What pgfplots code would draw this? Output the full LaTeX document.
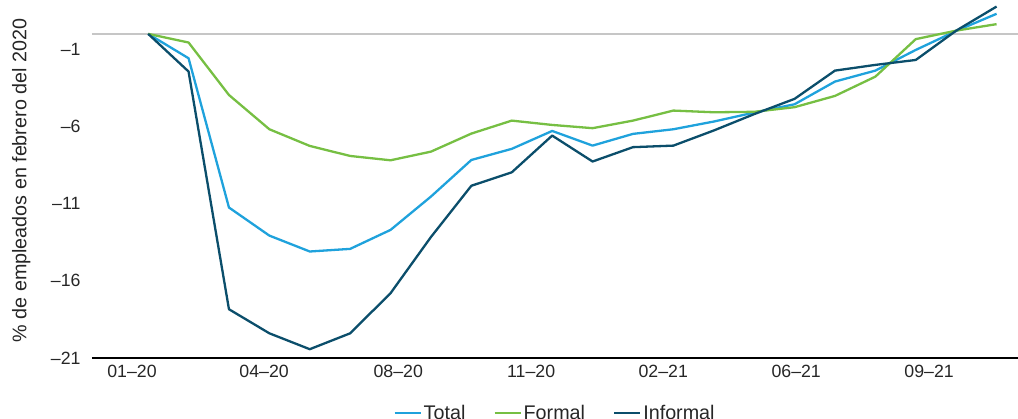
\documentclass[border=0pt]{standalone}
\usepackage{fontspec}
\setmainfont{Liberation Sans}
\usepackage{pgfplots}
\pgfplotsset{compat=1.18}

\definecolor{cTotal}{HTML}{1FA2DC}
\definecolor{cFormal}{HTML}{76BF43}
\definecolor{cInformal}{HTML}{0B4E6B}
\definecolor{zeroline}{HTML}{C6C6C6}
\definecolor{baseline}{HTML}{A0A0A0}
\definecolor{txt}{HTML}{262626}

% index: 0 = 01-20, monthly points
\pgfplotstableread{
i  total  formal  informal
0   0.00   0.00    0.00
1  -1.58  -0.56   -2.44
2  -11.25 -3.96  -17.84
3  -13.07 -6.18  -19.40
4  -14.10 -7.26  -20.43
5  -13.93 -7.91  -19.40
6  -12.70 -8.19  -16.80
7  -10.54 -7.63  -13.16
8  -8.17  -6.46   -9.84
9  -7.45  -5.62   -8.97
10 -6.29  -5.90   -6.59
11 -7.24  -6.11   -8.27
12 -6.48  -5.62   -7.34
13 -6.18  -4.97   -7.24
14 -5.68  -5.08   -6.26
15 -5.10  -5.05   -5.20
16 -4.56  -4.75   -4.21
17 -3.09  -4.02   -2.38
18 -2.38  -2.77   -2.01
19 -1.04  -0.34   -1.69
20  0.19   0.21    0.21
21  1.30   0.63    1.77
}\datatable

\begin{document}
\begin{tikzpicture}
\begin{axis}[
    scale only axis,
    width=926bp, height=355bp,
    xmin=-1.39, xmax=21.53,
    ymin=-21, ymax=2,
    font=\fontsize{17.8}{20}\selectfont,
    every tick label/.append style={text=txt},
    /pgf/number format/assume math mode=true,
    axis line style={draw=none},
    major tick length=0pt,
    xtick={-0.40,2.87,6.19,9.48,12.75,16.04,19.33},
    xticklabels={01–20,04–20,08–20,11–20,02–21,06–21,09–21},
    xticklabel style={yshift=-4bp},
    ytick={-21,-16,-11,-6,-1},
    yticklabels={–21,–16,–11,–6,–1},
    yticklabel style={xshift=-8bp},
    extra y ticks={0},
    extra y tick labels={},
    extra y tick style={grid=major, major grid style={zeroline, line width=1.3bp}},
    ylabel={\% de empleados en febrero del 2020},
    ylabel style={at={(axis description cs:-0.0765,0.5)}, anchor=center, text=txt,
        font=\fontsize{19.8}{22}\selectfont},
    legend style={at={(axis description cs:0.5,-0.155)}, anchor=center,
        draw=none, fill=none, legend columns=3, text=txt,
        font=\fontsize{19.8}{22}\selectfont,
        /tikz/every even column/.append style={column sep=26bp}},
    legend image code/.code={\draw[#1] (0bp,0bp) -- (26bp,0bp);},
    every axis plot/.append style={line width=2.3bp, line join=round},
]
\draw[baseline, line width=1.3bp] (rel axis cs:0,0) -- (rel axis cs:1,0);
\addplot[cTotal] table[x=i, y=total] {\datatable};
\addlegendentry{Total}
\addplot[cFormal] table[x=i, y=formal] {\datatable};
\addlegendentry{Formal}
\addplot[cInformal] table[x=i, y=informal] {\datatable};
\addlegendentry{Informal}
\end{axis}
\pgfresetboundingbox
\path[use as bounding box] ([xshift=-92bp,yshift=-61bp]current axis.south west) rectangle ([yshift=3bp]current axis.north east);
\end{tikzpicture}
\end{document}
